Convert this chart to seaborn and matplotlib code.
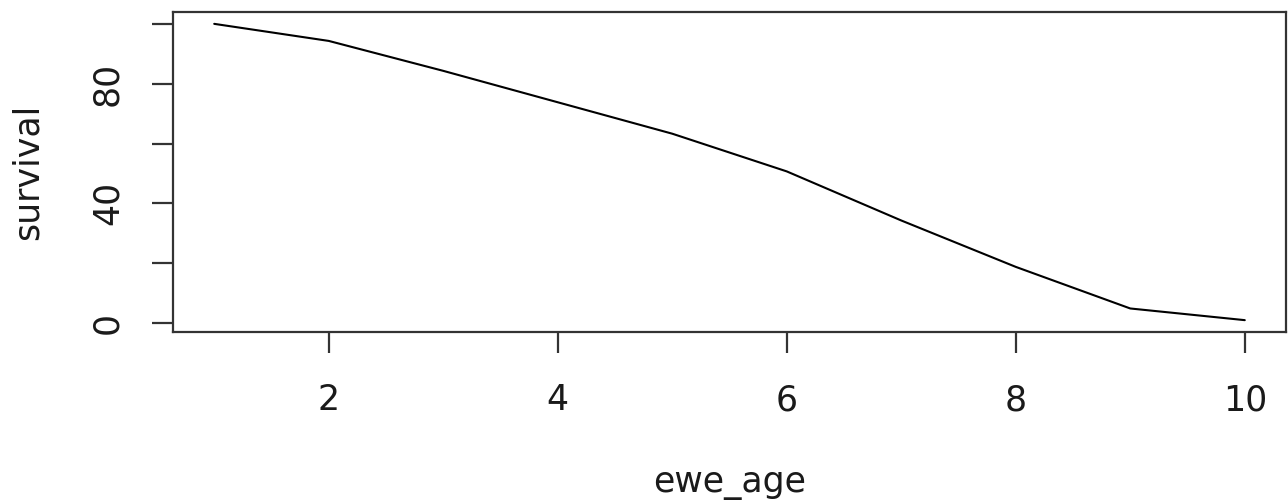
import matplotlib
matplotlib.use("Agg")
import matplotlib.pyplot as plt
import seaborn as sns
import pandas as pd

ewe_age = [1, 2, 3, 4, 5, 6, 7, 8, 9, 10]
survival = [100, 94.3, 84.3, 73.8, 63.3, 50.7, 34.3, 18.8, 4.9, 1.0]
x_ticks = [2, 4, 6, 8, 10]
y_ticks = [0, 20, 40, 60, 80, 100]
y_tick_labels = ["0", "", "40", "", "80", ""]

sns.set_style("ticks")
plt.rcParams["font.family"] = ["DejaVu Sans"]

df = pd.DataFrame({"ewe_age": ewe_age, "survival": survival})

fig = plt.figure(figsize=(12.88, 5.04), dpi=100)
ax = fig.add_axes([173 / 1288, 1 - 332 / 504, (1286 - 173) / 1288, (332 - 12) / 504])
sns.lineplot(data=df, x="ewe_age", y="survival", color="black", linewidth=1.5, ax=ax)

rng_x = max(ewe_age) - min(ewe_age)
ax.set_xlim(min(ewe_age) - 0.04 * rng_x, max(ewe_age) + 0.04 * rng_x)
rng_y = max(survival) - min(survival)
ax.set_ylim(min(survival) - 0.04 * rng_y, max(survival) + 0.04 * rng_y)

ax.set_xticks(x_ticks)
ax.set_xticklabels([str(v) for v in x_ticks])
ax.set_yticks(y_ticks)
ax.set_yticklabels(y_tick_labels, rotation=90, va="center")

for s in ax.spines.values():
    s.set_visible(True)
    s.set_color("#333333")
    s.set_linewidth(1.6)

ax.tick_params(axis="both", direction="out", length=15, width=1.6, color="#333333",
               labelsize=25, labelcolor="#1a1a1a")
ax.tick_params(axis="x", pad=22)
ax.tick_params(axis="y", pad=20)

ax.set_xlabel("ewe_age", fontsize=25, color="#1a1a1a")
ax.set_ylabel("survival", fontsize=25, color="#1a1a1a")
ax.xaxis.label.set_va("center")
ax.yaxis.label.set_va("center")
ax.xaxis.set_label_coords(0.5, -151 / 320)
ax.yaxis.set_label_coords(-145 / 1113, 0.5)

fig.savefig("out.png", dpi=100, facecolor="white")
